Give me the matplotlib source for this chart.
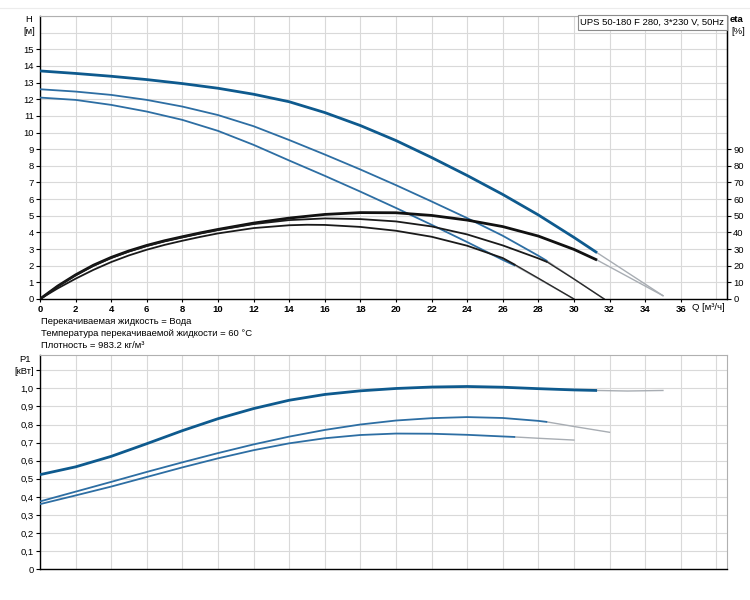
import matplotlib
matplotlib.use("Agg")
import matplotlib.pyplot as plt
from matplotlib.lines import Line2D

plt.rcParams['font.family'] = ['Liberation Sans', 'DejaVu Sans']

# ---------------- data ----------------
# Head curves H [m] vs Q [m3/h]
q_h1 = [0, 2, 4, 6, 8, 10, 12, 14, 16, 18, 20, 22, 24, 26, 28, 30, 31.3]
h1 = [13.7, 13.55, 13.38, 13.18, 12.94, 12.66, 12.3, 11.85, 11.2, 10.42, 9.52, 8.5, 7.42, 6.28, 5.05, 3.7, 2.78]
q_h1x = [31.3, 35.0]
h1x = [2.78, 0.2]

q_h2 = [0, 2, 4, 6, 8, 10, 12, 14, 16, 18, 20, 22, 24, 26, 28, 28.5]
h2 = [12.6, 12.46, 12.26, 11.96, 11.56, 11.05, 10.38, 9.55, 8.68, 7.78, 6.84, 5.86, 4.86, 3.8, 2.6, 2.28]
q_h2x = [28.5, 31.7]
h2x = [2.28, 0.0]

q_h3 = [0, 2, 4, 6, 8, 10, 12, 14, 16, 18, 20, 22, 24, 26, 26.7]
h3 = [12.1, 11.96, 11.66, 11.26, 10.76, 10.1, 9.26, 8.32, 7.4, 6.45, 5.47, 4.46, 3.42, 2.35, 2.0]
q_h3x = [26.7, 30.0]
h3x = [2.0, 0.0]

# Efficiency curves eta [%]
q_ea = [0, 1, 2, 3, 4, 5, 6, 7, 8, 9, 10, 12, 14, 16, 18, 20, 22, 24, 26, 28, 30, 31.3]
eta_a = [0, 7.8, 14.5, 20.3, 25, 28.9, 32.2, 35, 37.4, 39.7, 41.8, 45.6, 48.6, 50.8, 51.9, 51.8, 50.2, 47.4, 43.5, 37.8, 29.8, 23.4]
q_eax = [31.3, 35.0]
eta_ax = [23.4, 2.0]

q_eb = [0, 1, 2, 3, 4, 5, 6, 7, 8, 9, 10, 12, 14, 16, 18, 20, 22, 24, 26, 28, 28.5]
eta_b = [0, 7.6, 14.2, 19.9, 24.6, 28.5, 31.8, 34.6, 37.0, 39.3, 41.4, 45.0, 47.4, 48.4, 48.0, 46.6, 43.6, 38.8, 32.2, 24.4, 22.2]
q_ebx = [28.5, 30, 31.7]
eta_bx = [22.2, 12.0, 0]

q_ec = [0, 1, 2, 3, 4, 5, 6, 7, 8, 9, 10, 12, 14, 15, 16, 18, 20, 22, 24, 26, 26.7]
eta_c = [0, 6.4, 12.2, 17.5, 22.2, 26.2, 29.6, 32.5, 35.0, 37.3, 39.4, 42.6, 44.3, 44.6, 44.5, 43.3, 41.0, 37.4, 32.0, 24.6, 20.5]
q_ecx = [26.7, 28, 30]
eta_cx = [20.5, 12.5, 0]

# Power curves P1 [kW]
q_p1 = [0, 2, 4, 6, 8, 10, 12, 14, 16, 18, 20, 22, 24, 26, 28, 30, 31.3]
p1_1 = [0.523, 0.566, 0.624, 0.694, 0.766, 0.832, 0.888, 0.934, 0.966, 0.986, 0.999, 1.007, 1.01, 1.006, 0.998, 0.991, 0.988]
q_p1x = [31.3, 33, 35.0]
p1_1x = [0.988, 0.985, 0.988]

q_p2 = [0, 2, 4, 6, 8, 10, 12, 14, 16, 18, 20, 22, 24, 26, 28, 28.5]
p1_2 = [0.375, 0.429, 0.483, 0.538, 0.591, 0.642, 0.69, 0.733, 0.77, 0.8, 0.822, 0.835, 0.841, 0.836, 0.82, 0.814]
q_p2x = [28.5, 30, 32]
p1_2x = [0.814, 0.789, 0.757]

q_p3 = [0, 2, 4, 6, 8, 10, 12, 14, 16, 18, 20, 22, 24, 26, 26.7]
p1_3 = [0.36, 0.408, 0.457, 0.51, 0.563, 0.613, 0.658, 0.696, 0.724, 0.742, 0.75, 0.749, 0.743, 0.734, 0.731]
q_p3x = [26.7, 28, 30]
p1_3x = [0.731, 0.724, 0.714]

q_ticks = list(range(0, 37, 2))
h_ticks = list(range(0, 16))
eta_ticks = list(range(0, 100, 10))
p_ticks = [0, 0.1, 0.2, 0.3, 0.4, 0.5, 0.6, 0.7, 0.8, 0.9, 1.0]
p_labels = ['0', '0,1', '0,2', '0,3', '0,4', '0,5', '0,6', '0,7', '0,8', '0,9', '1,0']

title_box = "UPS 50-180 F 280, 3*230 V, 50Hz"
info_lines = ["Перекачиваемая жидкость = Вода",
              "Температура перекачиваемой жидкости = 60 °C",
              "Плотность = 983.2 кг/м³"]

# ---------------- styles ----------------
W, H = 750, 600
BLUE_D = '#0e5a8e'
BLUE_M = '#2d6ea3'
GREY_X = '#a8adb3'
GRID = '#d9d9d9'
FS = 6.8
LK = dict(solid_joinstyle='round', solid_capstyle='butt')

fig = plt.figure(figsize=(W / 100, H / 100), dpi=100)
fig.patch.set_facecolor('white')

def fx(px):
    return px / W

def fy(py):
    return 1 - py / H

# faint top frame line
fig.add_artist(Line2D([0, 1], [fy(8), fy(8)], color='#ececec', lw=0.8))

# ---------------- top axes ----------------
L, R = 40, 727
ax = fig.add_axes([fx(L), fy(299), fx(R - L), fy(16) - fy(299)])
ax.set_xlim(0, 38.6)
ax.set_ylim(0, 17)
for v in range(0, 39, 2):
    ax.axvline(v, color=GRID, lw=0.8, zorder=0)
for v in range(0, 18):
    ax.axhline(v, color=GRID, lw=0.8, zorder=0)

ax.set_xticks(q_ticks)
ax.set_xticklabels([str(t) for t in q_ticks], fontsize=FS, fontweight='bold')
ax.set_yticks(h_ticks)
ax.set_yticklabels([str(t) for t in h_ticks], fontsize=FS)
ax.tick_params(axis='y', length=3, width=0.8, pad=1.5)
ax.tick_params(axis='x', length=2, width=0.8, pad=2)
for s in ['left', 'bottom']:
    ax.spines[s].set_color('black')
    ax.spines[s].set_linewidth(1.0)
ax.spines['top'].set_color('#b0b0b0')
ax.spines['top'].set_linewidth(0.8)
ax.spines['right'].set_color('black')
ax.spines['right'].set_linewidth(1.0)

# eta twin axis (drawn above the head axis)
ax2 = ax.twinx()
ax2.set_ylim(0, 170)
ax2.set_yticks(eta_ticks)
ax2.set_yticklabels([str(t) for t in eta_ticks], fontsize=FS)
ax2.tick_params(axis='y', length=3, width=0.8, pad=1.5)
for s in ['left', 'bottom', 'top']:
    ax2.spines[s].set_visible(False)
ax2.spines['right'].set_color('black')

# head curves (lower layer)
ax.plot(q_h1x, h1x, color=GREY_X, lw=1.0, zorder=2)
ax.plot(q_h2x, h2x, color=GREY_X, lw=1.0, zorder=2)
ax.plot(q_h3x, h3x, color=GREY_X, lw=1.0, zorder=2)
ax.plot(q_h1, h1, color=BLUE_D, lw=2.0, zorder=4, **LK)
ax.plot(q_h2, h2, color=BLUE_M, lw=1.3, zorder=4, **LK)
ax.plot(q_h3, h3, color=BLUE_M, lw=1.3, zorder=4, **LK)

# efficiency curves (upper layer)
ax2.plot(q_eax, eta_ax, color=GREY_X, lw=1.0, zorder=2)
ax2.plot(q_ebx, eta_bx, color='#2a2a2a', lw=1.0, zorder=2)
ax2.plot(q_ecx, eta_cx, color='#2a2a2a', lw=1.0, zorder=2)
ax2.plot(q_ea, eta_a, color='#111111', lw=2.0, zorder=3, **LK)
ax2.plot(q_eb, eta_b, color='#1a1a1a', lw=1.3, zorder=3, **LK)
ax2.plot(q_ec, eta_c, color='#1a1a1a', lw=1.3, zorder=3, **LK)

ax2.text(0.996, 0.993, title_box, transform=ax2.transAxes, ha='right', va='top',
         fontsize=FS, zorder=10,
         bbox=dict(boxstyle='square,pad=0.3', fc='white', ec='#8c8c8c', lw=0.8))

# axis captions
fig.text(fx(29), fy(20), 'H', ha='center', va='center', fontsize=FS)
fig.text(fx(29), fy(32), '[м]', ha='center', va='center', fontsize=FS)
fig.text(fx(730), fy(20), 'eta', ha='left', va='center', fontsize=FS, fontweight='bold')
fig.text(fx(731), fy(32), '[%]', ha='left', va='center', fontsize=FS)
fig.text(fx(692), fy(307.5), 'Q [м³/ч]', ha='left', va='center', fontsize=FS)

for i, line in enumerate(info_lines):
    fig.text(fx(41), fy(322 + i * 12), line, ha='left', va='center', fontsize=FS)

# ---------------- bottom axes ----------------
bx = fig.add_axes([fx(L), fy(569.3), fx(R - L), fy(355) - fy(569.3)])
bx.set_xlim(0, 38.6)
bx.set_ylim(0, 1.184)
for v in range(0, 39, 2):
    bx.axvline(v, color=GRID, lw=0.8, zorder=0)
for i in range(0, 12):
    bx.axhline(i / 10, color=GRID, lw=0.8, zorder=0)
bx.set_xticks([])
bx.set_yticks(p_ticks + [1.1])
bx.set_yticklabels(p_labels + ['[кВт]'], fontsize=FS)
bx.tick_params(axis='y', length=3, width=0.8, pad=1.5)
for s in ['left', 'bottom']:
    bx.spines[s].set_color('black')
    bx.spines[s].set_linewidth(1.0)
for s in ['top', 'right']:
    bx.spines[s].set_color('#b0b0b0')
    bx.spines[s].set_linewidth(0.8)
fig.text(fx(25), fy(360), 'P1', ha='center', va='center', fontsize=FS)

bx.plot(q_p1x, p1_1x, color=GREY_X, lw=1.0, zorder=2)
bx.plot(q_p2x, p1_2x, color=GREY_X, lw=1.0, zorder=2)
bx.plot(q_p3x, p1_3x, color=GREY_X, lw=1.0, zorder=2)
bx.plot(q_p1, p1_1, color=BLUE_D, lw=2.0, zorder=3, **LK)
bx.plot(q_p2, p1_2, color=BLUE_M, lw=1.3, zorder=3, **LK)
bx.plot(q_p3, p1_3, color=BLUE_M, lw=1.3, zorder=3, **LK)

fig.savefig('out.png', dpi=100, facecolor='white')
